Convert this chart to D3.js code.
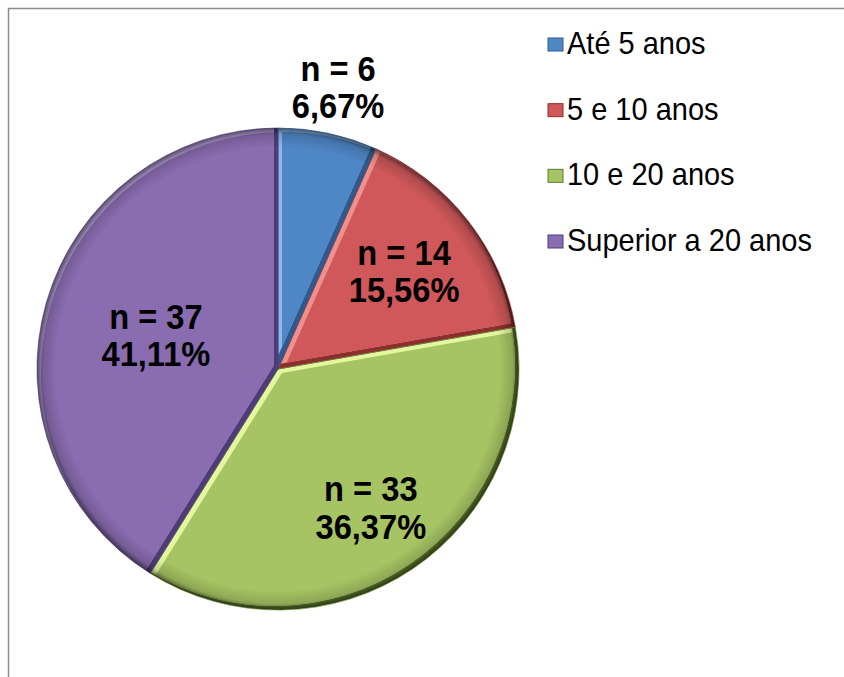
<!DOCTYPE html>
<html>
<head>
<meta charset="utf-8">
<script src="https://cdn.jsdelivr.net/npm/d3@7"></script>
<style>
    body { margin: 0; background: #ffffff; }
    svg { display: block; font-family: "Liberation Sans", Arial, sans-serif; }
</style>
</head>
<body>
<svg id="chart" width="844" height="677"></svg>
<script>

// Data
const categories = ["Até 5 anos", "5 e 10 anos", "10 e 20 anos", "Superior a 20 anos"];
const counts = [6, 14, 33, 37];
const percentLabels = ["6,67%", "15,56%", "36,37%", "41,11%"];

// Colours: base / highlight / shadow
const baseColors = ["#4f86c6", "#d0585a", "#a6c463", "#8a6cb0"];
const lightColors = ["#8cb8ea", "#f0908e", "#e2f7a0", "#bca5e0"];
const darkColors = ["#2f5a8e", "#8a2f2d", "#5f7a2d", "#4f3b76"];

// Layout
const CX = 278, CY = 369, R = 241;
const BEVEL = 4;
const STRETCH = 1.1;   // the source text is slightly taller than wide
// radius at which each label block is centred
const labelRadius = [289, 160, 166, 127];

const svg = d3.select("#chart");

// Frame (top and left edges only)
svg.append("path")
    .attr("d", "M8.5,677 L8.5,8.5 L844,8.5")
    .attr("fill", "none")
    .attr("stroke", "#8c8c8c")
    .attr("stroke-width", 1.5);

const pie = d3.pie().sort(null).value(d => d);
const arcs = pie(counts);
const arc = d3.arc().innerRadius(0).outerRadius(R);

const g = svg.append("g").attr("transform", `translate(${CX},${CY})`);
const defs = svg.append("defs");

// Soft darkening toward the rim
const rim = defs.append("radialGradient")
    .attr("id", "rim")
    .attr("gradientUnits", "userSpaceOnUse")
    .attr("cx", 0).attr("cy", 0).attr("r", R);
rim.append("stop").attr("offset", "0.92").attr("stop-color", "#000").attr("stop-opacity", 0);
rim.append("stop").attr("offset", "0.975").attr("stop-color", "#000").attr("stop-opacity", 0.15);
rim.append("stop").attr("offset", "1").attr("stop-color", "#000").attr("stop-opacity", 0.55);

arcs.forEach((a, i) => {
    const d = arc(a);

    defs.append("clipPath").attr("id", `clip${i}`)
        .append("path").attr("d", d);
    defs.append("clipPath").attr("id", `clipShift${i}`)
        .append("path").attr("d", d)
        .attr("transform", `translate(${-BEVEL},${-BEVEL})`);

    const slice = g.append("g").attr("clip-path", `url(#clip${i})`);

    // Shadow on the bottom-right edges
    slice.append("path").attr("d", d).attr("fill", darkColors[i]);

    const inner = slice.append("g").attr("clip-path", `url(#clipShift${i})`);
    // Highlight on the top-left edges
    inner.append("path").attr("d", d).attr("fill", lightColors[i]);
    // Face
    inner.append("path").attr("d", d)
        .attr("transform", `translate(${BEVEL},${BEVEL})`)
        .attr("fill", baseColors[i]);

    slice.append("path").attr("d", d).attr("fill", "url(#rim)");
});

// Thin outlines
g.selectAll(".outline")
    .data(arcs)
    .join("path")
    .attr("class", "outline")
    .attr("d", arc)
    .attr("fill", "none")
    .attr("stroke", (d, i) => darkColors[i])
    .attr("stroke-opacity", 0.7)
    .attr("stroke-width", 1);

// Data labels
const labels = g.selectAll(".label")
    .data(arcs)
    .join("text")
    .attr("class", "label")
    .attr("text-anchor", "middle")
    .attr("font-size", 32)
    .attr("font-weight", "bold")
    .attr("fill", "#000")
    .attr("transform", (d, i) => {
        const c = d3.arc().innerRadius(labelRadius[i]).outerRadius(labelRadius[i]).centroid(d);
        return `translate(${c[0]},${c[1]}) scale(1.02,${STRETCH})`;
    });

labels.append("tspan")
    .attr("x", 0)
    .attr("y", -5)
    .text(d => `n = ${d.data}`);
labels.append("tspan")
    .attr("x", 0)
    .attr("y", 29)
    .text((d, i) => percentLabels[i]);

// Legend
const legend = svg.append("g").attr("transform", "translate(548,0)");
const rowY = d3.scalePoint().domain(categories).range([44, 241]);

const item = legend.selectAll(".item")
    .data(categories)
    .join("g")
    .attr("class", "item")
    .attr("transform", d => `translate(0,${rowY(d)})`);

item.append("rect")
    .attr("x", 0).attr("y", -6)
    .attr("width", 15).attr("height", 13)
    .attr("fill", (d, i) => baseColors[i])
    .attr("stroke", (d, i) => darkColors[i])
    .attr("stroke-width", 1);

item.append("text")
    .attr("transform", `translate(19,10) scale(1,${STRETCH})`)
    .attr("font-size", 29)
    .attr("fill", "#000")
    .text(d => d);

</script>
</body>
</html>
